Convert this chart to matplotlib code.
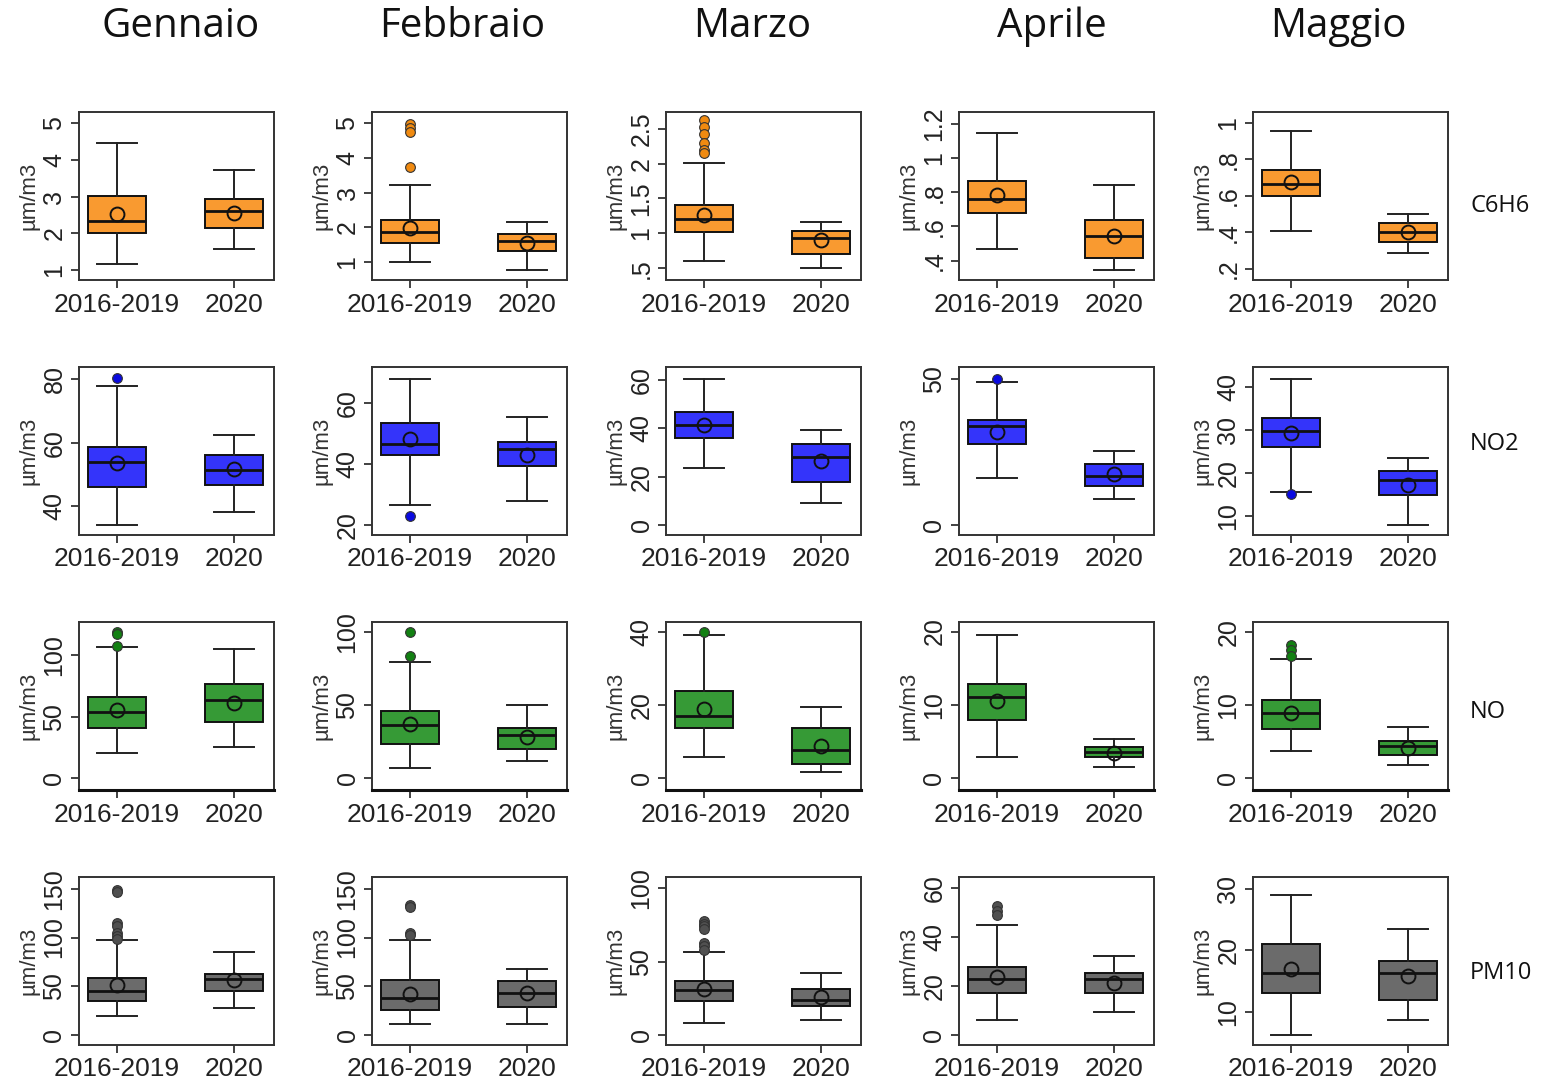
import matplotlib
matplotlib.use("Agg")
import matplotlib.pyplot as plt

# ---------------- data ----------------
months = ["Gennaio", "Febbraio", "Marzo", "Aprile", "Maggio"]
pollutants = ["C6H6", "NO2", "NO", "PM10"]
groups = ["2016-2019", "2020"]
ylabel = "µm/m3"

# each list: per month -> [2016-2019, 2020]
c6h6_lo = [[1.16, 1.57], [1.00, 0.78], [0.60, 0.50], [0.468, 0.346], [0.408, 0.285]]
c6h6_q1 = [[2.02, 2.15], [1.54, 1.31], [1.02, 0.71], [0.680, 0.414], [0.598, 0.345]]
c6h6_med = [[2.34, 2.62], [1.88, 1.61], [1.21, 0.93], [0.761, 0.546], [0.662, 0.400]]
c6h6_q3 = [[3.02, 2.93], [2.21, 1.80], [1.40, 1.04], [0.864, 0.637], [0.743, 0.450]]
c6h6_hi = [[4.47, 3.72], [3.21, 2.16], [2.01, 1.16], [1.146, 0.841], [0.955, 0.502]]
c6h6_mean = [[2.52, 2.56], [1.99, 1.54], [1.26, 0.90], [0.786, 0.546], [0.676, 0.400]]
c6h6_out = [[[], []], [[4.97, 4.85, 4.73, 3.74], []],
            [[2.62, 2.52, 2.42, 2.30, 2.20, 2.15], []], [[], []], [[], []]]

no2_lo = [[34.0, 38.0], [26.7, 28.1], [23.4, 9.1], [16.1, 9.0], [15.6, 7.9]]
no2_q1 = [[46.1, 46.6], [42.9, 39.5], [36.1, 18.0], [27.9, 13.5], [26.0, 14.9]]
no2_med = [[54.0, 51.3], [46.5, 44.9], [41.2, 28.2], [33.9, 16.9], [29.8, 18.4]]
no2_q3 = [[58.7, 56.1], [53.5, 47.2], [46.9, 33.6], [36.1, 21.1], [32.8, 20.5]]
no2_hi = [[77.8, 62.4], [68.1, 55.5], [60.5, 39.2], [48.9, 25.4], [42.0, 23.5]]
no2_mean = [[53.6, 51.8], [48.3, 43.0], [41.5, 26.5], [31.8, 17.5], [29.3, 17.2]]
no2_out = [[[80.5], []], [[22.9], []], [[], []], [[50.0], []], [[15.2], []]]

no_lo = [[20.3, 25.5], [6.8, 11.8], [5.8, 1.7], [2.95, 1.6], [3.8, 1.8]]
no_q1 = [[41.2, 45.8], [23.7, 19.8], [13.8, 3.8], [7.9, 2.9], [6.8, 3.2]]
no_med = [[53.9, 63.4], [36.4, 29.6], [17.0, 7.7], [11.1, 3.6], [9.0, 4.4]]
no_q3 = [[66.1, 76.4], [46.0, 34.6], [23.8, 13.7], [12.8, 4.27], [10.7, 5.1]]
no_hi = [[107.0, 105.4], [79.7, 50.3], [39.2, 19.5], [19.5, 5.3], [16.4, 7.0]]
no_mean = [[55.3, 61.5], [36.9, 28.5], [18.9, 8.8], [10.5, 3.4], [9.0, 4.2]]
no_out = [[[119.0, 117.0, 107.6], []], [[100.0, 83.6], []], [[40.1], []],
          [[], []], [[18.2, 17.5, 16.8], []]]

pm10_lo = [[19.8, 28.3], [11.9, 11.9], [7.9, 10.4], [6.1, 9.3], [6.2, 8.7]]
pm10_q1 = [[35.1, 45.3], [25.6, 29.3], [23.4, 19.5], [17.1, 17.1], [13.0, 11.9]]
pm10_med = [[45.3, 57.3], [38.5, 43.0], [30.6, 23.8], [22.9, 22.9], [16.3, 16.3]]
pm10_q3 = [[59.0, 63.1], [56.3, 55.6], [37.0, 31.3], [28.0, 25.2], [21.0, 18.2]]
pm10_hi = [[97.2, 85.6], [97.2, 67.5], [56.7, 42.0], [45.0, 32.1], [28.9, 23.4]]
pm10_mean = [[51.5, 56.6], [42.6, 43.6], [31.7, 25.6], [23.9, 21.1], [16.9, 15.8]]
pm10_out = [[[149.0, 147.0, 115.0, 112.0, 105.0, 101.6, 98.5], []],
            [[133.0, 131.0, 105.0, 102.6], []],
            [[78.0, 76.0, 74.0, 72.0, 63.0, 61.0, 58.0], []],
            [[52.8, 50.7, 49.0], []], [[], []]]

# y tick values per panel
c6h6_yticks = [[1, 2, 3, 4, 5], [1, 2, 3, 4, 5], [0.5, 1, 1.5, 2, 2.5],
               [0.4, 0.6, 0.8, 1, 1.2], [0.2, 0.4, 0.6, 0.8, 1]]
no2_yticks = [[40, 60, 80], [20, 40, 60], [0, 20, 40, 60], [0, 50], [10, 20, 30, 40]]
no_yticks = [[0, 50, 100], [0, 50, 100], [0, 20, 40], [0, 10, 20], [0, 10, 20]]
pm10_yticks = [[0, 50, 100, 150], [0, 50, 100, 150], [0, 50, 100], [0, 20, 40, 60], [10, 20, 30]]

# ---------------- styling / layout ----------------
c6h6_ylim = [(0.73, 5.3), (0.49, 5.31), (0.33, 2.74), (0.287, 1.268), (0.137, 1.06)]
no2_ylim = [(30.9, 83.9), (16.8, 71.9), (-4.1, 65.3), (-3.4, 54.2), (5.6, 44.7)]
no_ylim = [(-9.5, 127), (-8, 106.8), (-3.2, 42.7), (-1.6, 21.3), (-1.6, 21.4)]
pm10_ylim = [(-10, 162), (-10, 162), (-6.8, 107.7), (-4.1, 64.6), (4.6, 31.9)]

rows = [
    (c6h6_lo, c6h6_q1, c6h6_med, c6h6_q3, c6h6_hi, c6h6_mean, c6h6_out, c6h6_yticks, c6h6_ylim),
    (no2_lo, no2_q1, no2_med, no2_q3, no2_hi, no2_mean, no2_out, no2_yticks, no2_ylim),
    (no_lo, no_q1, no_med, no_q3, no_hi, no_mean, no_out, no_yticks, no_ylim),
    (pm10_lo, pm10_q1, pm10_med, pm10_q3, pm10_hi, pm10_mean, pm10_out, pm10_yticks, pm10_ylim),
]
fills = ["#F99A30", "#3434FA", "#369A36", "#6B6B6B"]
flier_fc = ["#F08A10", "#0A0AE0", "#128012", "#505050"]

W, H = 1545, 1083
col_left = [79, 372, 666, 959, 1253]
ax_w = 195
row_top = [112, 367, 622, 877]
ax_h = 168

title_x = [181, 462, 752, 1052, 1338]
row_label_y = [206, 444, 712, 973]

TICKFONT = "Liberation Sans"


def fmt(v):
    s = f"{v:g}"
    if s.startswith("0."):
        s = s[1:]
    return s


fig = plt.figure(figsize=(W / 100, H / 100), dpi=100)
fig.patch.set_facecolor("white")

for r, (lo, q1, med, q3, hi, mean, out, yt, yl) in enumerate(rows):
    for c in range(5):
        ax = fig.add_axes([col_left[c] / W, 1 - (row_top[r] + ax_h) / H, ax_w / W, ax_h / H])
        stats = []
        for g in range(2):
            stats.append(dict(whislo=lo[c][g], q1=q1[c][g], med=med[c][g], q3=q3[c][g],
                              whishi=hi[c][g], mean=mean[c][g], fliers=out[c][g], label=groups[g]))
        bp = ax.bxp(stats, positions=[1, 2], widths=0.5, capwidths=0.34,
                    patch_artist=True, showmeans=True,
                    boxprops=dict(edgecolor="#111111", linewidth=1.4),
                    medianprops=dict(color="#111111", linewidth=2.0),
                    whiskerprops=dict(color="#222222", linewidth=1.4),
                    capprops=dict(color="#222222", linewidth=1.4),
                    meanprops=dict(marker="o", markerfacecolor="none", markeredgecolor="#111111",
                                   markersize=10, markeredgewidth=1.4),
                    flierprops=dict(marker="o", markerfacecolor=flier_fc[r], markeredgecolor="#333333",
                                    markersize=7, markeredgewidth=0.8))
        for b in bp["boxes"]:
            b.set_facecolor(fills[r])
        ax.set_xlim(0.675, 2.34)
        ax.set_ylim(*yl[c])
        ax.set_xticks([1, 2])
        ax.set_xticklabels(groups, fontsize=19, family=TICKFONT, color="#222222")
        ax.set_yticks(yt[c])
        ax.set_yticklabels([fmt(v) for v in yt[c]], fontsize=18, family=TICKFONT,
                           color="#222222", rotation=90, va="center")
        ax.tick_params(axis="both", direction="out", length=6, width=1.3, color="#333333")
        ax.tick_params(axis="x", pad=3)
        ax.tick_params(axis="y", pad=3)
        ax.set_ylabel(ylabel, fontsize=16, family=TICKFONT, color="#333333", labelpad=2)
        for s in ax.spines.values():
            s.set_linewidth(1.4)
            s.set_color("#333333")
        if r == 2:
            ax.spines["bottom"].set_linewidth(2.2)
            ax.spines["bottom"].set_color("#111111")

for c, m in enumerate(months):
    fig.text(title_x[c] / W, 1 - 27 / H, m, ha="center", va="center", fontsize=29,
             family="Open Sans", color="#111111")

for r, p in enumerate(pollutants):
    fig.text(1470 / W, 1 - row_label_y[r] / H, p, ha="left", va="center", fontsize=17,
             family="Open Sans", color="#111111")

fig.savefig("out.png", dpi=100)
